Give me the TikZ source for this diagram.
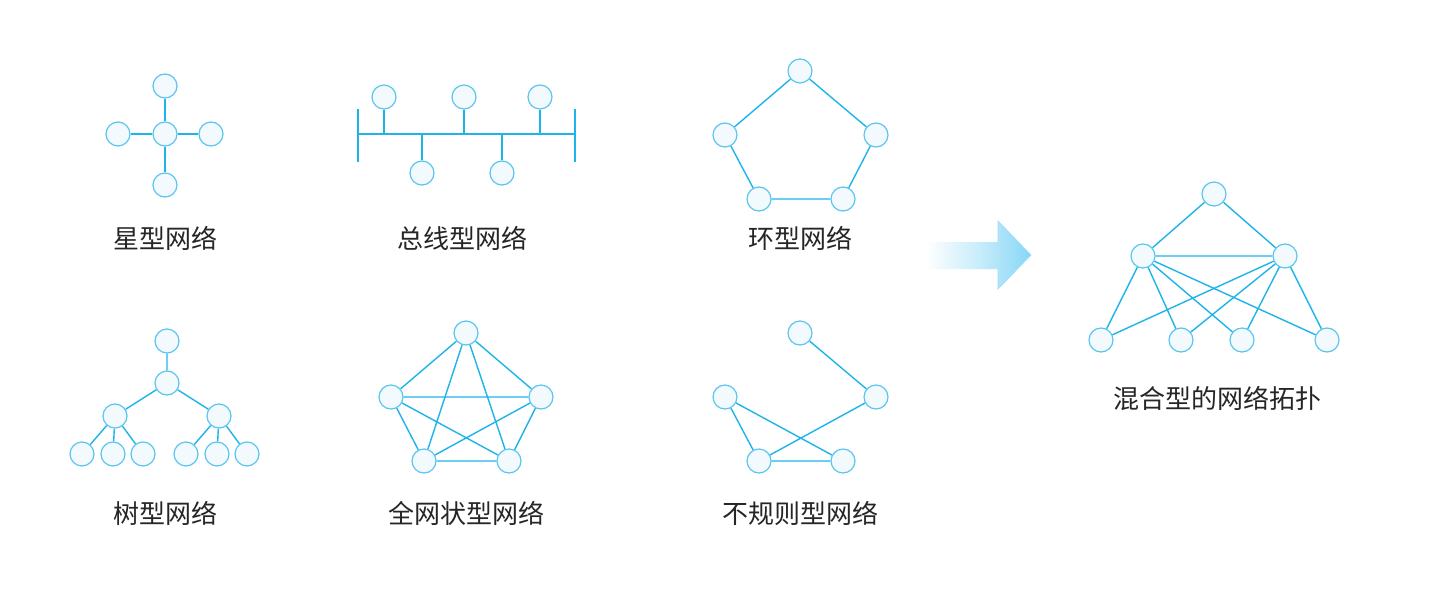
\documentclass[tikz,border=0pt]{standalone}
\usepackage{fontspec}
\newfontfamily\cjk{Noto Sans CJK SC}
\definecolor{lineblue}{RGB}{30,180,234}
\definecolor{nodeedge}{RGB}{90,198,240}
\definecolor{nodefill}{RGB}{242,250,254}
\definecolor{arrowblue}{RGB}{135,214,246}
\begin{document}
\begin{tikzpicture}[x=1pt,y=-1pt,
  nd/.style={circle,draw=nodeedge,fill=nodefill,line width=1.2pt,minimum size=24pt,inner sep=0pt},
  ln/.style={draw=lineblue,line width=1.4pt},
  lbl/.style={font=\cjk\fontsize{26}{30}\selectfont,text=black!85}]
\useasboundingbox (0,0) rectangle (1455,592);
\fill[white] (0,0) rectangle (1455,592);

% Star
\node[nd] (s0) at (165,134) {};
\node[nd] (s1) at (165,86) {};
\node[nd] (s2) at (118,134) {};
\node[nd] (s3) at (211,134) {};
\node[nd] (s4) at (165,185) {};
\foreach \i in {1,2,3,4} \draw[ln] (s0) -- (s\i);
\node[lbl] (l1) at (165,238) {星型网络};

% Bus
\coordinate (bl) at (358,134);
\coordinate (br) at (575,134);
\coordinate (blt) at (358,109);
\coordinate (blb) at (358,162);
\coordinate (brt) at (575,109);
\coordinate (brb) at (575,162);
\draw[ln] (bl) -- (br);
\draw[ln] (blt) -- (blb);
\draw[ln] (brt) -- (brb);
\node[nd] (b1) at (384,97) {};
\node[nd] (b2) at (464,97) {};
\node[nd] (b3) at (540,97) {};
\node[nd] (b4) at (422,173) {};
\node[nd] (b5) at (502,173) {};
\foreach \i in {1,2,3,4,5} \draw[ln] (b\i) -- (b\i |- bl);
\node[lbl] (l2) at (462,238) {总线型网络};

% Ring
\node[nd] (r1) at (800,71) {};
\node[nd] (r2) at (876,135) {};
\node[nd] (r3) at (843,199) {};
\node[nd] (r4) at (759,199) {};
\node[nd] (r5) at (725,135) {};
\draw[ln] (r1) -- (r2) (r2) -- (r3) (r3) -- (r4) (r4) -- (r5) (r5) -- (r1);
\node[lbl] (l3) at (800,238) {环型网络};

% Tree
\node[nd] (t0) at (167,341) {};
\node[nd] (t1) at (167,383) {};
\node[nd] (t2) at (115,416) {};
\node[nd] (t3) at (219,416) {};
\node[nd] (t4) at (82,454) {};
\node[nd] (t5) at (113,454) {};
\node[nd] (t6) at (143,454) {};
\node[nd] (t7) at (186,454) {};
\node[nd] (t8) at (217,454) {};
\node[nd] (t9) at (247,454) {};
\draw[ln] (t0) -- (t1) (t1) -- (t2) (t1) -- (t3)
  (t2) -- (t4) (t2) -- (t5) (t2) -- (t6)
  (t3) -- (t7) (t3) -- (t8) (t3) -- (t9);
\node[lbl] (l4) at (165,513) {树型网络};

% Mesh
\node[nd] (m1) at (466,333) {};
\node[nd] (m2) at (541,397) {};
\node[nd] (m3) at (509,461) {};
\node[nd] (m4) at (424,461) {};
\node[nd] (m5) at (391,397) {};
\draw[ln] (m1) -- (m2) (m1) -- (m3) (m1) -- (m4) (m1) -- (m5)
  (m2) -- (m3) (m2) -- (m4) (m2) -- (m5)
  (m3) -- (m4) (m3) -- (m5) (m4) -- (m5);
\node[lbl] (l5) at (466,513) {全网状型网络};

% Irregular
\node[nd] (i1) at (800,333) {};
\node[nd] (i2) at (876,397) {};
\node[nd] (i3) at (843,461) {};
\node[nd] (i4) at (759,461) {};
\node[nd] (i5) at (725,397) {};
\draw[ln] (i1) -- (i2) (i2) -- (i4) (i5) -- (i4) (i5) -- (i3) (i4) -- (i3);
\node[lbl] (l6) at (800,513) {不规则型网络};

% Arrow
\shade[left color=white,right color=arrowblue,middle color=arrowblue!45]
  (925,242) -- (998,242) -- (998,221) -- (1031,255) -- (998,289) -- (998,269) -- (925,269) -- cycle;
\draw[arrowblue!80,line width=0.7pt] (998,242) -- (998,221) -- (1031,255) -- (998,289) -- (998,269);

% Hybrid
\node[nd] (h0) at (1214,194) {};
\node[nd] (h1) at (1143,256) {};
\node[nd] (h2) at (1285,256) {};
\node[nd] (h3) at (1101,340) {};
\node[nd] (h4) at (1181,340) {};
\node[nd] (h5) at (1242,340) {};
\node[nd] (h6) at (1327,340) {};
\draw[ln] (h0) -- (h1) (h0) -- (h2) (h1) -- (h2);
\foreach \i in {3,4,5,6} \draw[ln] (h1) -- (h\i) (h2) -- (h\i);
\node[lbl] (l7) at (1217,398) {混合型的网络拓扑};
\end{tikzpicture}
\end{document}
